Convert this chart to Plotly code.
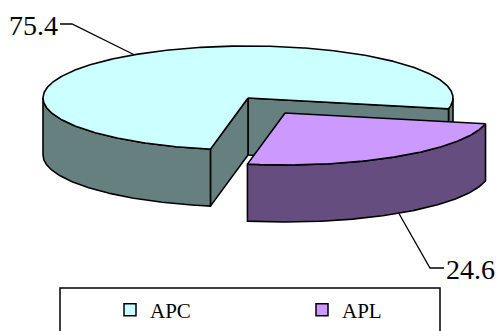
import numpy as np
import plotly.graph_objects as go

# values
categories = ['APC', 'APL']
shares = [75.4, 24.6]
share_labels = ['75.4', '24.6']
top_colors = ['#CCFFFF', '#CC99FF']
side_colors = ['#668080', '#664D80']

# pie projection, in pixels (axes run 1:1 with the window)
W, H = 500, 331
cx, cy = 248, 98
rx, ry = 205, 52
depth = 57
start = 12  # where the APL slice begins, degrees clockwise from east
# APL is pulled out of the pie
ex_cx, ex_cy = 285, 113

apl_sweep = shares[1] / sum(shares) * 360
apl_a0 = start
apl_a1 = start + apl_sweep
apc_a0 = apl_a1
apc_a1 = start + 360


def arc(x0, y0, a, b):
    t = np.radians(np.linspace(a, b, max(int(abs(b - a)) * 2, 2)))
    return x0 + rx * np.cos(t), y0 + ry * np.sin(t)


def poly(fig, xs, ys, color):
    fig.add_trace(go.Scatter(
        x=list(xs) + [xs[0]], y=list(ys) + [ys[0]], mode='lines', fill='toself',
        fillcolor=color, line=dict(color='black', width=1.6),
        showlegend=False, hoverinfo='skip'))


def wall(fig, xs, ys, color):
    # outer wall: arc on top, same arc shifted down by the depth
    poly(fig, np.r_[xs, xs[::-1]], np.r_[ys, ys[::-1] + depth], color)


fig = go.Figure()

# APC walls, back to front
ax, ay = arc(cx, cy, 0, apc_a1 - 360)
wall(fig, ax, ay, side_colors[0])
ex, ey = arc(cx, cy, start, start)
poly(fig, [cx, ex[0], ex[0], cx], [cy, ey[0], ey[0] + depth, cy + depth], side_colors[0])
ex, ey = arc(cx, cy, apc_a0, apc_a0)
poly(fig, [cx, ex[0], ex[0], cx], [cy, ey[0], ey[0] + depth, cy + depth], side_colors[0])
ax, ay = arc(cx, cy, apc_a0, 180)
wall(fig, ax, ay, side_colors[0])

# APC top
ax, ay = arc(cx, cy, apc_a0, apc_a1)
poly(fig, np.r_[cx, ax], np.r_[cy, ay], top_colors[0])

# APL, pulled out
ax, ay = arc(ex_cx, ex_cy, apl_a0, apl_a1)
wall(fig, ax, ay, side_colors[1])
poly(fig, np.r_[ex_cx, ax], np.r_[ex_cy, ay], top_colors[1])

# legend entries
for name, color in zip(categories, top_colors):
    fig.add_trace(go.Scatter(
        x=[None], y=[None], mode='markers', name=name,
        marker=dict(symbol='square', size=12, color=color, line=dict(color='black', width=1.5))))

# leader lines, anchored on the middle of each slice
m = np.radians((apc_a0 + apc_a1) / 2)
x1, y1 = cx + rx * np.cos(m), cy + ry * np.sin(m)
fig.add_trace(go.Scatter(x=[60, 72, x1], y=[24, 24, y1], mode='lines',
                         line=dict(color='black', width=1.3), showlegend=False, hoverinfo='skip'))
m = np.radians((apl_a0 + apl_a1) / 2)
x2, y2 = ex_cx + rx * np.cos(m), ex_cy + ry * np.sin(m) + depth
fig.add_trace(go.Scatter(x=[x2, 430, 444], y=[y2, 268, 268], mode='lines',
                         line=dict(color='black', width=1.3), showlegend=False, hoverinfo='skip'))

font = 'Liberation Serif'
fig.add_annotation(x=8, y=25, text=share_labels[0], showarrow=False, xanchor='left', xshift=-1,
                   font=dict(family=font, size=28, color='black'))
fig.add_annotation(x=445, y=269, text=share_labels[1], showarrow=False, xanchor='left', xshift=-1,
                   font=dict(family=font, size=28, color='black'))

# legend frame, its bottom edge falls outside the picture
fig.add_shape(type='rect', x0=60, x1=440, y0=288, y1=340,
              line=dict(color='black', width=1.5), fillcolor='rgba(0,0,0,0)')

fig.update_xaxes(range=[0, W], visible=False, fixedrange=True)
fig.update_yaxes(range=[H, 0], visible=False, fixedrange=True)
fig.update_layout(
    width=W, height=H, margin=dict(l=0, r=0, t=0, b=0),
    paper_bgcolor='white', plot_bgcolor='white',
    legend=dict(orientation='h', x=0.22, y=0.063, xanchor='left', yanchor='middle',
                entrywidth=147, entrywidthmode='pixels', itemwidth=30,
                bgcolor='rgba(0,0,0,0)',
                font=dict(family=font, size=21, color='black')),
)

# page margin would push the figure 8px off the window corner
fig.write_html("out.html", config={'displayModeBar': False},
               post_script="document.body.style.margin='0';document.body.style.overflow='hidden';")
